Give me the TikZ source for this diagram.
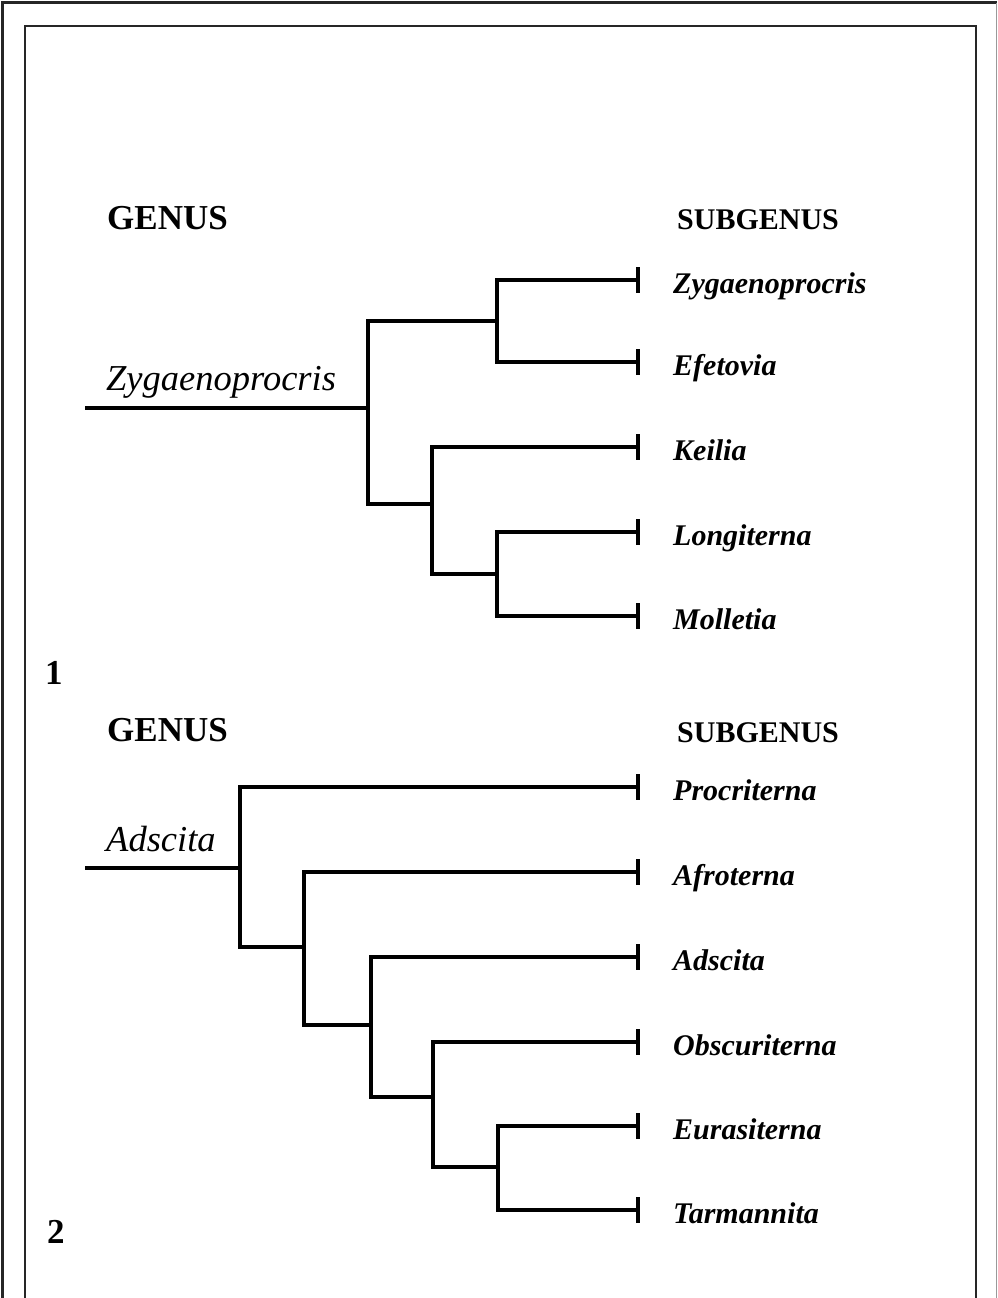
\documentclass[tikz,border=0pt]{standalone}
\usepackage{fontspec}
\setmainfont{Liberation Serif}
\begin{document}
\begin{tikzpicture}[x=1pt, y=-1pt]
\tikzset{
  branch/.style={line width=3.6pt, line cap=rect},
  tick/.style={line width=3.6pt},
  tip/.style={anchor=base west, inner sep=0pt, font=\fontsize{30}{32}\selectfont\bfseries\itshape},
  head/.style={anchor=base west, inner sep=0pt, font=\fontsize{35}{38}\selectfont\bfseries},
  subhead/.style={anchor=base west, inner sep=0pt, font=\fontsize{30}{32}\selectfont\bfseries},
  genus/.style={anchor=base west, inner sep=0pt, font=\fontsize{36.5}{38}\selectfont\itshape}
}
\useasboundingbox (0,0) rectangle (997,1298);
% frames
\draw[line width=3pt, black!85] (2,1298) -- (2,3) -- (997,3);
\draw[line width=1pt, black!40] (996,3) -- (996,1298);
\draw[line width=2.5pt, black!85] (25,1298) -- (25,26) -- (976,26) -- (976,1298);

% figure 1
\node[head] (g1) at (107,229) {GENUS};
\node[subhead] (s1) at (677,229) {SUBGENUS};
\node[genus] (n1) at (106,390) {Zygaenoprocris};
\node[head] (f1) at (45,684) {1};
\foreach \n / \y / \t in {11/280/Zygaenoprocris,12/362/Efetovia,13/447/Keilia,14/532/Longiterna,15/616/Molletia}
{
	\coordinate (t\n) at (638,\y);
	\draw[tick] (638,\y-13) -- (638,\y+13);
	\node[tip] (l\n) at (673,\y+13) {\t};
}
\coordinate (r1) at (87,408);
\coordinate (a1) at (368,408);
\coordinate (b1) at (497,321);
\coordinate (c1) at (432,504);
\coordinate (d1) at (497,574);
\draw[branch] (r1) -- (a1);
\draw[branch] (a1) |- (b1);
\draw[branch] (a1) |- (c1);
\draw[branch] (b1) |- (t11);
\draw[branch] (b1) |- (t12);
\draw[branch] (c1) |- (t13);
\draw[branch] (c1) |- (d1);
\draw[branch] (d1) |- (t14);
\draw[branch] (d1) |- (t15);

% figure 2
\node[head] (g2) at (107,741) {GENUS};
\node[subhead] (s2) at (677,742) {SUBGENUS};
\node[genus] (n2) at (106,851) {Adscita};
\node[head] (f2) at (47,1243) {2};
\foreach \n / \y / \t in {21/787/Procriterna,22/872/Afroterna,23/957/Adscita,24/1042/Obscuriterna,25/1126/Eurasiterna,26/1210/Tarmannita}
{
	\coordinate (t\n) at (638,\y);
	\draw[tick] (638,\y-13) -- (638,\y+13);
	\node[tip] (l\n) at (673,\y+13) {\t};
}
\coordinate (r2) at (87,868);
\coordinate (a2) at (240,868);
\coordinate (b2) at (304,947);
\coordinate (c2) at (371,1025);
\coordinate (d2) at (433,1097);
\coordinate (e2) at (498,1167);
\draw[branch] (r2) -- (a2);
\draw[branch] (a2) |- (t21);
\draw[branch] (a2) |- (b2);
\draw[branch] (b2) |- (t22);
\draw[branch] (b2) |- (c2);
\draw[branch] (c2) |- (t23);
\draw[branch] (c2) |- (d2);
\draw[branch] (d2) |- (t24);
\draw[branch] (d2) |- (e2);
\draw[branch] (e2) |- (t25);
\draw[branch] (e2) |- (t26);
\end{tikzpicture}
\end{document}
